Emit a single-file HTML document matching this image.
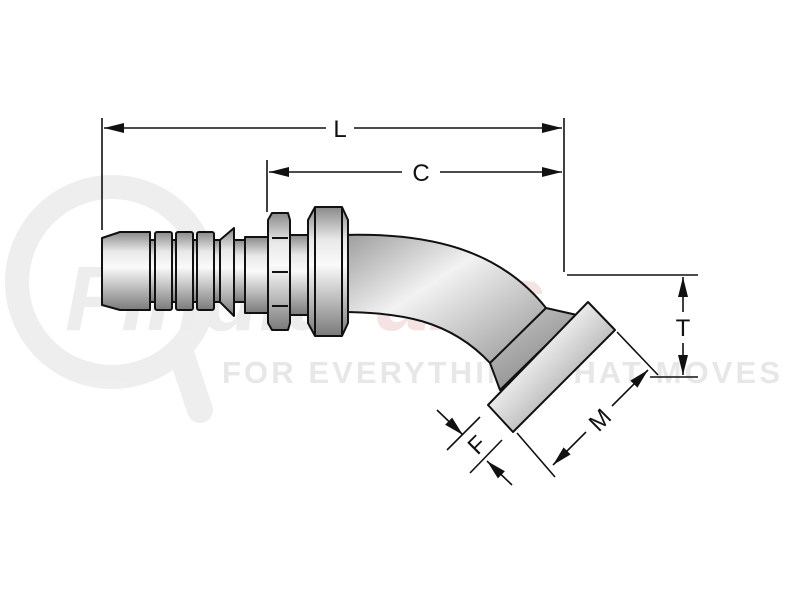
<!DOCTYPE html>
<html><head><style>html,body{margin:0;padding:0;background:#fff}svg{display:block}</style></head>
<body>
<svg width="800" height="600" viewBox="0 0 800 600" xmlns="http://www.w3.org/2000/svg" font-family="Liberation Sans, sans-serif">
<defs>
<linearGradient id="m" x1="0" y1="0" x2="0" y2="1">
<stop offset="0" stop-color="#8a8a8a"/><stop offset="0.25" stop-color="#e8e8e8"/><stop offset="0.45" stop-color="#fafafa"/><stop offset="0.75" stop-color="#b5b5b5"/><stop offset="1" stop-color="#7a7a7a"/>
</linearGradient>
<linearGradient id="d" x1="0" y1="0" x2="1" y2="1">
<stop offset="0" stop-color="#9a9a9a"/><stop offset="0.35" stop-color="#f2f2f2"/><stop offset="0.7" stop-color="#b0b0b0"/><stop offset="1" stop-color="#7c7c7c"/>
</linearGradient>
<linearGradient id="f" x1="0" y1="0" x2="1" y2="0">
<stop offset="0" stop-color="#8c8c8c"/><stop offset="0.5" stop-color="#e6e6e6"/><stop offset="1" stop-color="#a0a0a0"/>
</linearGradient>
<marker id="b" viewBox="0 0 20 10" refX="20" refY="5" markerWidth="20" markerHeight="10" markerUnits="userSpaceOnUse" orient="auto-start-reverse"><path d="M0,0 L20,5 L0,10 z" fill="#111"/></marker>
</defs>
<!-- watermark -->
<g opacity="0.6">
<circle cx="112" cy="282" r="95" fill="none" stroke="#e4e4e4" stroke-width="24"/>
<line x1="180" y1="350" x2="200" y2="410" stroke="#e4e4e4" stroke-width="26" stroke-linecap="round"/>
<text x="65" y="330" font-size="92" font-weight="bold" font-style="italic" fill="#e2e2e2">Findit<tspan fill="#efd2d2">Parts</tspan></text>
<text x="222" y="383" font-size="31" font-weight="bold" fill="#d8d8d8" textLength="558">FOR EVERYTHING THAT MOVES</text>
</g>
<g stroke="#111" stroke-width="2" stroke-linejoin="round">
<path d="M340,235 C430,232 500,250 546,308 L577,315 L500,390 L490,363 C450,320 400,312 340,312 Z" fill="url(#d)"/>
<line x1="546" y1="308" x2="490" y2="363"/>
<polygon points="588,302 615,330 513,432 488,405" fill="url(#d)"/>
<path d="M102,238 L120,232 L150,232 L150,310 L120,310 L102,305 Z" fill="url(#m)"/>
<rect x="150" y="240" width="70" height="62" fill="url(#m)"/>
<rect x="155" y="232" width="17" height="78" rx="2" fill="url(#m)"/>
<rect x="176" y="232" width="17" height="78" rx="2" fill="url(#m)"/>
<rect x="197" y="232" width="17" height="78" rx="2" fill="url(#m)"/>
<path d="M220,240 L234,228 L234,316 L220,302 Z" fill="url(#m)"/>
<rect x="234" y="240" width="12" height="62" fill="url(#m)"/>
<rect x="245" y="237" width="23" height="76" fill="url(#m)"/>
<path d="M268,220 L272,213 L288,213 L290,220 L290,323 L288,330 L272,330 L268,323 Z" fill="url(#m)"/>
<line x1="272" y1="238" x2="288" y2="238"/><line x1="272" y1="272" x2="288" y2="272"/><line x1="272" y1="306" x2="288" y2="306"/>
<rect x="290" y="235" width="20" height="80" fill="url(#m)"/>
<path d="M308,220 L315,207 L342,207 L348,220 L348,323 L342,336 L315,336 L308,323 Z" fill="url(#m)"/>
<line x1="315" y1="207" x2="315" y2="336"/><line x1="342" y1="207" x2="342" y2="336"/>
</g>
<g stroke="#111" stroke-width="1.6" fill="none">
<line x1="102" y1="118" x2="102" y2="230"/>
<line x1="564" y1="118" x2="564" y2="272"/>
<line x1="267" y1="160" x2="267" y2="212"/>
<line x1="104" y1="128" x2="326" y2="128" marker-start="url(#b)"/>
<line x1="354" y1="128" x2="562" y2="128" marker-end="url(#b)"/>
<line x1="269" y1="172" x2="402" y2="172" marker-start="url(#b)"/>
<line x1="440" y1="172" x2="562" y2="172" marker-end="url(#b)"/>
<line x1="567" y1="275" x2="698" y2="275"/>
<line x1="650" y1="377" x2="698" y2="377"/>
<line x1="683" y1="277" x2="683" y2="312" marker-start="url(#b)"/>
<line x1="683" y1="343" x2="683" y2="375" marker-end="url(#b)"/>
<line x1="617" y1="332" x2="658" y2="375"/>
<line x1="517" y1="433" x2="555" y2="477"/>
<line x1="648" y1="370" x2="612" y2="406" marker-start="url(#b)"/>
<line x1="586" y1="432" x2="553" y2="465" marker-end="url(#b)"/>
<line x1="447" y1="450" x2="480" y2="417"/>
<line x1="470" y1="473" x2="502" y2="440"/>
<line x1="437" y1="410" x2="463" y2="435" marker-end="url(#b)"/>
<line x1="512" y1="485" x2="487" y2="461" marker-end="url(#b)"/>
</g>
<g font-size="24" fill="#111" text-anchor="middle">
<text x="340" y="137">L</text>
<text x="421" y="181">C</text>
<text x="683" y="336">T</text>
<text x="0" y="0" transform="translate(600,420) rotate(-45)" dy="8">M</text>
<text x="0" y="0" transform="translate(477,445) rotate(-45)" dy="8">F</text>
</g>
</svg>
</body></html>
